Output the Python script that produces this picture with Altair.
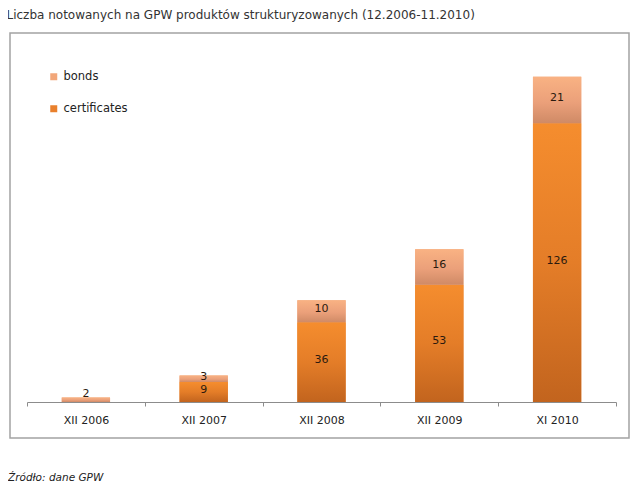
import altair as alt
import pandas as pd

# ---- data ----
categories = ["XII 2006", "XII 2007", "XII 2008", "XII 2009", "XI 2010"]
certificates = [0, 9, 36, 53, 126]
bonds = [2, 3, 10, 16, 21]
series_names = ["bonds", "certificates"]

title_text = "Liczba notowanych na GPW produktów strukturyzowanych (12.2006-11.2010)"
source_text = "Źródło: dane GPW"

# ---- build stacked table (certificates at the bottom, bonds on top) ----
rows = []
for cat, c, b in zip(categories, certificates, bonds):
    rows.append({"cat": cat, "series": "certificates", "value": c, "y0": 0, "y1": c})
    rows.append({"cat": cat, "series": "bonds", "value": b, "y0": c, "y1": c + b})
df = pd.DataFrame(rows)
df["mid"] = (df["y0"] + df["y1"]) / 2

FONT = "DejaVu Sans"
W, H = 589, 354

x = alt.X("cat:N", sort=categories, title=None,
          scale=alt.Scale(paddingInner=0, paddingOuter=0),
          axis=alt.Axis(tickBand="extent", labelAngle=0, labelFont=FONT, labelFontSize=11,
                        labelColor="#222222", domainColor="#8c8c8c", tickColor="#8c8c8c",
                        tickSize=4, labelPadding=8, grid=False))
yscale = alt.Scale(domain=[0, 160], nice=False)

base = alt.Chart(df)

legend_layer = base.mark_bar(width={"band": 0.41}).encode(
    x=x,
    y=alt.Y("y0:Q", scale=yscale, axis=None),
    y2="y1:Q",
    color=alt.Color("series:N",
                    scale=alt.Scale(domain=series_names, range=["#f2a77a", "#e9802c"]),
                    legend=alt.Legend(title=None, orient="none", legendX=21, legendY=23,
                                      symbolType="square", symbolSize=49, symbolStrokeWidth=0,
                                      labelFont=FONT, labelFontSize=11.5, labelColor="#222222",
                                      rowPadding=19, labelOffset=4)),
)

cert_grad = alt.Gradient(gradient="linear", x1=0, x2=0, y1=0, y2=1,
                         stops=[alt.GradientStop(color="#f58d2e", offset=0),
                                alt.GradientStop(color="#e47d28", offset=0.5),
                                alt.GradientStop(color="#c2641e", offset=1)])
bond_grad = alt.Gradient(gradient="linear", x1=0, x2=0, y1=0, y2=1,
                         stops=[alt.GradientStop(color="#f9b283", offset=0),
                                alt.GradientStop(color="#eba07a", offset=0.55),
                                alt.GradientStop(color="#cf8a66", offset=1)])

cert_layer = base.transform_filter(alt.datum.series == "certificates").mark_bar(
    width={"band": 0.41}, color=cert_grad).encode(
    x=x, y=alt.Y("y0:Q", scale=yscale, axis=None), y2="y1:Q")
bond_layer = base.transform_filter(alt.datum.series == "bonds").mark_bar(
    width={"band": 0.41}, color=bond_grad).encode(
    x=x, y=alt.Y("y0:Q", scale=yscale, axis=None), y2="y1:Q")

labels_mid = base.transform_filter("datum.value >= 3").mark_text(
    font=FONT, fontSize=11, color="#2b1a0e", baseline="middle", dy=-2).encode(
    x=x, y=alt.Y("mid:Q", scale=yscale, axis=None), text="value:Q")
labels_top = base.transform_filter("datum.value > 0 && datum.value < 3").mark_text(
    font=FONT, fontSize=11, color="#2b1a0e", baseline="bottom", dy=1).encode(
    x=x, y=alt.Y("y1:Q", scale=yscale, axis=None), text="value:Q")

one = alt.Chart(pd.DataFrame({"k": [0]}))
frame = one.mark_rect(fillOpacity=0, stroke="#a3a3a3", strokeWidth=1.5).encode(
    x=alt.value(-17), x2=alt.value(602), y=alt.value(-15), y2=alt.value(390))
footer = one.mark_text(align="left", baseline="middle", font=FONT, fontSize=10.5,
                       fontStyle="italic", color="#222222").encode(
    x=alt.value(-19), y=alt.value(430), text=alt.value(source_text))

chart = alt.layer(frame, legend_layer, cert_layer, bond_layer, labels_mid, labels_top, footer).properties(
    width=W, height=H,
    title=alt.TitleParams(title_text, anchor="start", dx=-1.5, offset=10, font=FONT,
                          fontSize=12, fontWeight="normal", color="#333333"),
    padding={"left": 19, "top": 40, "right": 16, "bottom": 81},
    autosize=alt.AutoSizeParams(type="none"),
).configure_view(stroke=None)

chart.save("out.html", embed_options={"renderer": "svg", "actions": False})
